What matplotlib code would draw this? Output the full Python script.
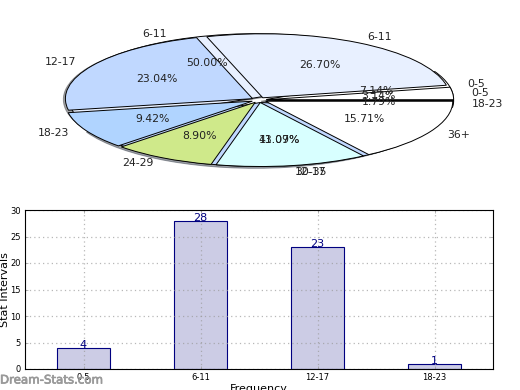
import matplotlib
matplotlib.use('Agg')
import matplotlib.pyplot as plt
import matplotlib.patheffects as pe

# bar chart / inner pie data
freq_labels = ['0-5', '6-11', '12-17', '18-23']
freq_values = [4, 28, 23, 1]
freq_colors = ['white', '#e8f0ff', '#c0d8ff', 'black']
freq_explode = [0.04, 0.04, 0.04, 0.04]

# second pie, drawn on top of the first one
all_labels = ['0-5', '6-11', '12-17', '18-23', '24-29', '30-35', '36+']
all_values = [6, 51, 44, 18, 17, 25, 30]
all_colors = ['white', '#e8f0ff', '#c0d8ff', '#b0d4ff', '#cfe98a', '#d8ffff', 'white']
all_explode = [0.04, 0.04, 0.04, 0.04, 0.04, 0.04, 0.04]

W, H = 520, 390
fig = plt.figure(figsize=(W / 100, H / 100), dpi=100)

# pie axes, squashed on purpose
ax1 = fig.add_axes([25 / W, 1 - 180 / H, 468 / W, 160 / H])
ax1.pie(freq_values, labels=freq_labels, colors=freq_colors, autopct='%1.2f%%',
        explode=freq_explode, shadow=True, textprops={'fontsize': 7.8, 'color': '#222222'},
        wedgeprops={'edgecolor': 'black', 'linewidth': 0.7})
ax1.pie(all_values, labels=all_labels, colors=all_colors, autopct='%1.2f%%',
        explode=all_explode, textprops={'fontsize': 7.8, 'color': '#222222'},
        wedgeprops={'edgecolor': 'black', 'linewidth': 0.7})
ax1.set_aspect('auto')
ax1.set_xlim(-1.25, 1.25)
ax1.set_ylim(-1.25, 1.25)

# bar chart
ax2 = fig.add_axes([25 / W, 1 - 369 / H, 468 / W, 159 / H])
x = list(range(len(freq_labels)))
ax2.bar(x, freq_values, width=0.45, color='navy', alpha=0.2)
ax2.bar(x, freq_values, width=0.45, fill=False, edgecolor='navy', linewidth=0.8)
for i, v in zip(x, freq_values):
    ax2.text(i, v + 0.5, str(v), color='navy', fontsize=8, ha='center', va='center')
ax2.set_xlim(-0.5, 3.5)
ax2.set_ylim(0, 30)
ax2.set_xticks(x)
ax2.set_xticklabels(freq_labels)
ax2.set_yticks([0, 5, 10, 15, 20, 25, 30])
ax2.tick_params(axis='both', labelsize=6, length=2, width=0.5, direction='in',
                top=True, right=True, color='#999999', pad=3)
ax2.grid(True, linestyle=(0, (1, 2.5)), color='#999999', linewidth=0.9, alpha=0.7)
ax2.set_axisbelow(False)
for spine in ax2.spines.values():
    spine.set_zorder(5)
ax2.set_xlabel('Frequency', fontsize=8)
ax2.set_ylabel('Stat Intervals', fontsize=8)
ax2.xaxis.set_label_coords(0.5, -15 / 159)
ax2.yaxis.set_label_coords(-15 / 468, 0.5)

mark = fig.text(0 / W, 1 - 380 / H, 'Dream-Stats.com', color='#999999', fontsize=8.5,
                va='center', ha='left')
mark.set_path_effects([pe.withStroke(linewidth=0.5, foreground='#999999')])

fig.savefig('out.png', dpi=100)
